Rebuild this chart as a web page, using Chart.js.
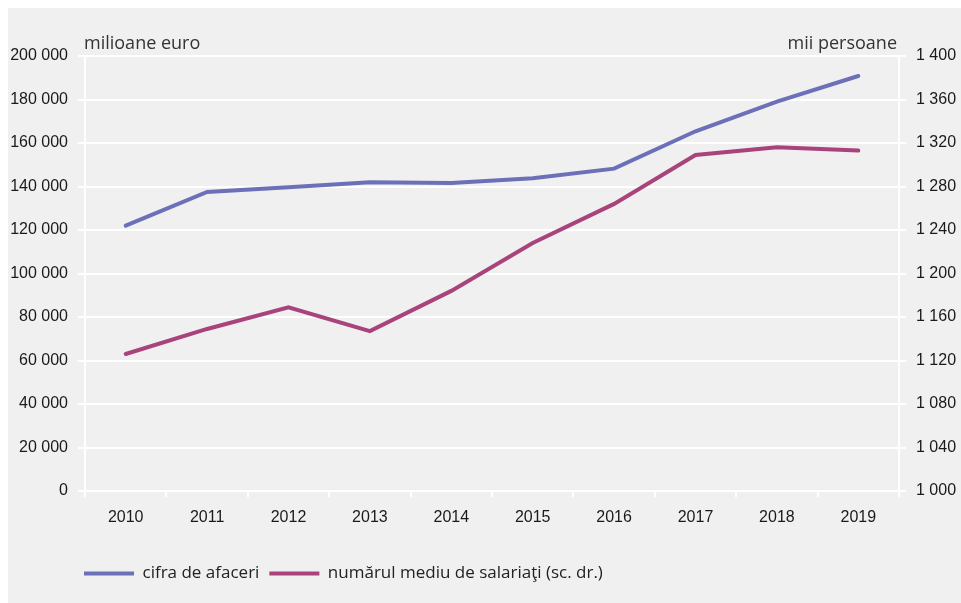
<!DOCTYPE html>
<html>
<head>
<meta charset="utf-8">
<script src="https://cdn.jsdelivr.net/npm/chart.js@4/dist/chart.umd.min.js"></script>
<style>
    html, body { margin: 0; padding: 0; background: #ffffff; }
    #wrap { position: absolute; left: 8px; top: 8px; width: 953px; height: 595px; background: #f0f0f0; }
</style>
</head>
<body>
<div id="wrap"><canvas id="chart" width="953" height="595"></canvas></div>
<script>
// Data
const years = ['2010', '2011', '2012', '2013', '2014', '2015', '2016', '2017', '2018', '2019'];
const turnover = [122000, 137500, 139600, 142000, 141600, 143800, 148200, 165400, 179000, 190800];   // milioane euro
const employees = [1126, 1149, 1169, 1147, 1184, 1228, 1264, 1309, 1316, 1313];                   // mii persoane

const turnoverLabel = 'cifra de afaceri';
const employeesLabel = 'numărul mediu de salariaţi (sc. dr.)';

const tickFont = { family: '"Liberation Sans", Arial, sans-serif', size: 16 };

// thousands separated by a space, e.g. 200 000
function spaced(v) {
    return String(v).replace(/\B(?=(\d{3})+(?!\d))/g, ' ');
}

/**
 * Unit titles above the two value axes
 */
const unitTitles = {
    id: 'unitTitles',
    afterDraw(chart) {
        const { ctx, chartArea } = chart;
        ctx.save();
        ctx.font = '18px "Open Sans", sans-serif';
        ctx.fillStyle = '#333333';
        ctx.textBaseline = 'middle';
        ctx.textAlign = 'left';
        ctx.fillText('milioane euro', chartArea.left - 1, chartArea.top - 12);
        ctx.textAlign = 'right';
        ctx.fillText('mii persoane', chartArea.right - 2, chartArea.top - 12);
        ctx.restore();
    }
};

/**
 * Legend starts under the plot, not at the canvas edge
 */
const legendIndent = {
    id: 'legendIndent',
    afterLayout(chart) {
        chart.legend.left = 66;
    }
};

new Chart(document.getElementById('chart'), {
    type: 'line',
    data: {
        labels: years,
        datasets: [
            {
                label: turnoverLabel,
                data: turnover,
                yAxisID: 'y',
                borderColor: '#6b70b8',
                backgroundColor: '#6b70b8',
                borderWidth: 4,
                borderCapStyle: 'round',
                pointRadius: 0,
                tension: 0
            },
            {
                label: employeesLabel,
                data: employees,
                yAxisID: 'y1',
                borderColor: '#a8437c',
                backgroundColor: '#a8437c',
                borderWidth: 4,
                borderCapStyle: 'round',
                pointRadius: 0,
                tension: 0
            }
        ]
    },
    options: {
        responsive: false,
        animation: false,
        layout: { padding: { left: 0, right: 0, top: 48, bottom: 11 } },
        plugins: {
            legend: {
                position: 'bottom',
                align: 'start',
                labels: {
                    usePointStyle: true,
                    pointStyle: 'line',
                    pointStyleWidth: 50,
                    padding: 10,
                    color: '#222222',
                    font: { family: '"Open Sans", sans-serif', size: 17 }
                }
            },
            tooltip: { enabled: false }
        },
        scales: {
            x: {
                offset: true,
                afterFit: (scale) => { scale.height = 64; },
                grid: {
                    offset: true,
                    drawOnChartArea: false,
                    drawTicks: true,
                    tickLength: 6,
                    color: '#ffffff',
                    lineWidth: 2
                },
                border: { display: true, color: '#ffffff', width: 2 },
                ticks: { color: '#1a1a1a', font: tickFont, padding: 11, maxRotation: 0 }
            },
            y: {
                position: 'left',
                min: 0,
                max: 200000,
                afterFit: (scale) => { scale.width = 77; },
                grid: { color: '#ffffff', lineWidth: 2, tickLength: 7 },
                border: { display: true, color: '#ffffff', width: 2 },
                ticks: {
                    stepSize: 20000,
                    color: '#1a1a1a',
                    font: tickFont,
                    padding: 10,
                    callback: (v) => spaced(v)
                }
            },
            y1: {
                position: 'right',
                min: 1000,
                max: 1400,
                afterFit: (scale) => { scale.width = 62; },
                grid: { drawOnChartArea: false, color: '#ffffff', lineWidth: 2, tickLength: 7 },
                border: { display: true, color: '#ffffff', width: 2 },
                ticks: {
                    stepSize: 40,
                    color: '#1a1a1a',
                    font: tickFont,
                    padding: 10,
                    callback: (v) => spaced(v)
                }
            }
        }
    },
    plugins: [unitTitles, legendIndent]
});
</script>
</body>
</html>
